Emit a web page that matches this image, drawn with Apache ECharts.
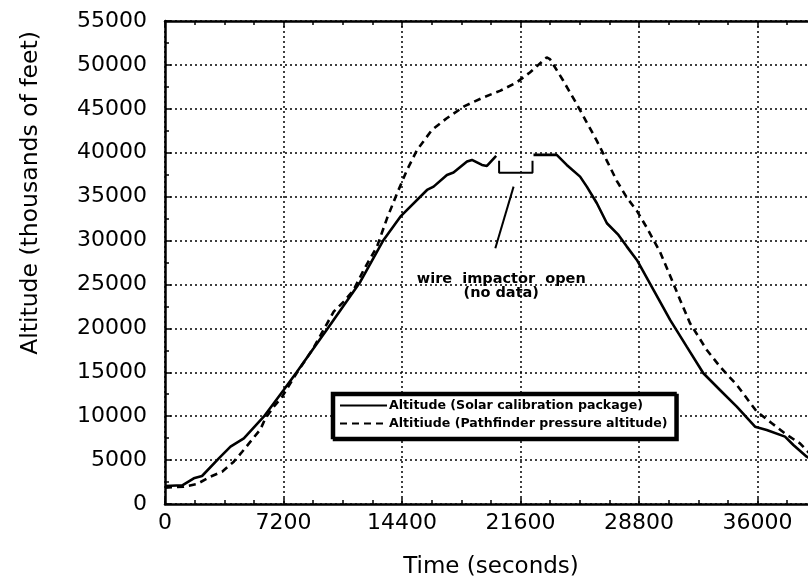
<!DOCTYPE html>
<html><head><meta charset="utf-8">
<script src="https://cdn.jsdelivr.net/npm/echarts@6/dist/echarts.min.js"></script>
<style>html,body{margin:0;padding:0;background:#fff;overflow:hidden}#c{width:876px;height:585px}</style>
</head><body><div id="c"></div>
<script>
// ---- data ----
const solarName = 'Altitude (Solar calibration package)';
const pathName = 'Altitiude (Pathfinder pressure altitude)';
const xTitle = 'Time (seconds)';
const yTitle = 'Altitude (thousands of feet)';

// Solar calibration package, before the data gap
const solarTimeA = [0,1050,1750,2250,3270,3980,4790,6000,7210,8020,9030,9850,11870,13280,14300,15920,16320,17130,17530,18350,18650,19260,19560,20120];
const solarAltA  = [2050,2130,2930,3190,5200,6530,7480,9940,12980,15070,17730,19900,25320,30070,32720,35760,36140,37470,37740,38990,39180,38610,38490,39630];
// after the data gap
const solarTimeB = [22390,23800,24410,25220,25630,26240,26850,27550,28060,28670,29680,30690,31700,32710,33720,34740,35850,36560,37670,38180,38990,39600];
const solarAltB  = [39750,39750,38610,37280,36140,34250,31970,30640,29310,27790,24370,20960,17920,14890,12980,11080,8800,8430,7670,6720,5390,4700];

// Pathfinder pressure altitude
const pathTime = [0,1140,1950,2760,3470,4180,4690,5190,5800,6100,6610,7120,8000,9000,10250,10860,11460,12070,12880,13490,14100,14700,15310,16220,17100,18200,19330,20350,21360,22170,23190,23390,24200,25020,25630,26240,26850,27450,28060,28670,29270,30080,30690,31300,31900,32920,33720,34740,35950,36870,37790,38580,39600];
const pathAlt  = [1860,1970,2280,3110,3680,4820,5950,7100,8510,9760,11080,12220,14900,17700,21900,23040,24370,26650,29300,32530,35370,38020,40300,42600,43900,45300,46290,47040,48000,49140,50850,50660,48190,45530,43440,41350,39080,36800,34900,33380,31480,28700,26000,23230,20580,17540,15640,13560,10530,9200,7860,6910,4900];

// annotation: no-data bracket and pointer (data coordinates)
const bracketTime = [20300,20300,22330,22330];
const bracketAlt  = [39100,37730,37730,39100];
const pointerTime = [20070,21180];
const pointerAlt  = [29120,36140];
const noteTime = [20430,20430];
const noteAlt  = [25550,24000];
const noteText = ['wire  impactor  open','(no data)'];

// axis ticks
const xInterval = 7200, xMax = 43200;
const yInterval = 5000, yMax = 55000;

// ---- chart ----
const pairs = (xs, ys) => xs.map((x, i) => [x, ys[i]]);
const chart = echarts.init(document.getElementById('c'), null, {renderer: 'canvas', width: 876, height: 585});
const tickFont = 'DejaVu Sans';
const axisCommon = {
  axisLine: {show: true, onZero: false, lineStyle: {color: '#000', width: 2.5}},
  axisTick: {show: true, inside: true, length: 6, lineStyle: {color: '#000', width: 1.5}},
  minorTick: {show: true, length: 4, lineStyle: {color: '#000', width: 1.5}},
};
const solidStyle = {color: '#000', width: 2.6};
const plain = v => String(v);

chart.setOption({
  animation: false,
  backgroundColor: '#fff',
  grid: {left: 165, top: 21, bottom: 81, right: 0, containLabel: false, outerBoundsMode: 'none'},
  xAxis: [{
    type: 'value', min: 0, max: xMax, interval: xInterval,
    ...axisCommon,
    minorTick: {...axisCommon.minorTick, splitNumber: 4},
    axisLabel: {color: '#000', fontFamily: tickFont, fontSize: 22, margin: 8, formatter: plain},
    splitLine: {show: true, lineStyle: {color: '#000', width: 1.5, type: [2, 3]}}
  }, {
    type: 'value', position: 'top', min: 0, max: xMax, interval: xInterval,
    ...axisCommon,
    minorTick: {...axisCommon.minorTick, splitNumber: 4},
    axisLabel: {show: false},
    splitLine: {show: false}
  }],
  yAxis: {
    type: 'value', min: 0, max: yMax, interval: yInterval,
    ...axisCommon,
    minorTick: {...axisCommon.minorTick, splitNumber: 2},
    axisLabel: {color: '#000', fontFamily: tickFont, fontSize: 22, margin: 18, padding: [8, 0, 0, 0], formatter: plain},
    splitLine: {show: true, lineStyle: {color: '#000', width: 1.5, type: [2, 3]}}
  },
  legend: {
    data: [solarName, pathName],
    orient: 'vertical', left: 332, top: 393,
    itemWidth: 47, itemHeight: 14, itemGap: 5,
    padding: [6, 8, 8, 7],
    backgroundColor: '#fff',
    borderColor: '#000', borderWidth: 2.5,
    shadowColor: '#000', shadowOffsetX: 2, shadowOffsetY: 2, shadowBlur: 0,
    itemStyle: {opacity: 0},
    textStyle: {color: '#000', fontFamily: 'DejaVu Sans', fontWeight: 'bold', fontSize: 12.6, padding: [0, 0, 0, -3]}
  },
  series: [
    {name: solarName, type: 'line', data: pairs(solarTimeA, solarAltA), symbol: 'none',
     itemStyle: {color: '#000'}, lineStyle: solidStyle, z: 5},
    {name: solarName, type: 'line', data: pairs(solarTimeB, solarAltB), symbol: 'none',
     itemStyle: {color: '#000'}, lineStyle: solidStyle, z: 5},
    {name: pathName, type: 'line', data: pairs(pathTime, pathAlt), symbol: 'none',
     itemStyle: {color: '#000'}, lineStyle: {color: '#000', width: 2.6, type: [7, 5]}, z: 4},
    {name: 'bracket', type: 'line', data: pairs(bracketTime, bracketAlt), symbol: 'none',
     lineStyle: {color: '#000', width: 2}, z: 5},
    {name: 'pointer', type: 'line', data: pairs(pointerTime, pointerAlt), symbol: 'none',
     lineStyle: {color: '#000', width: 2}, z: 5}
  ],
  graphic: [
    {type: 'text', x: 31, y: 193, rotation: Math.PI / 2,
     style: {text: yTitle, font: '23.5px "DejaVu Sans"', fill: '#000', align: 'center', verticalAlign: 'middle'}},
    {type: 'text', x: 491, y: 567,
     style: {text: xTitle, font: '23px "DejaVu Sans"', fill: '#000', align: 'center', verticalAlign: 'middle'}}
  ]
});

// annotation text placed through the chart's own scales
const noteGraphics = noteText.map((t, i) => {
  const p = chart.convertToPixel({gridIndex: 0}, [noteTime[i], noteAlt[i]]);
  return {type: 'text', x: p[0], y: p[1], z: 20,
    style: {text: t, font: 'bold 14.5px "DejaVu Sans"', fill: '#000', align: 'center', verticalAlign: 'middle'}};
});
chart.setOption({graphic: [
  {type: 'text', x: 31, y: 193, rotation: Math.PI / 2,
   style: {text: yTitle, font: '23.5px "DejaVu Sans"', fill: '#000', align: 'center', verticalAlign: 'middle'}},
  {type: 'text', x: 491, y: 567,
   style: {text: xTitle, font: '23px "DejaVu Sans"', fill: '#000', align: 'center', verticalAlign: 'middle'}},
  ...noteGraphics
]});
</script>
</body></html>
